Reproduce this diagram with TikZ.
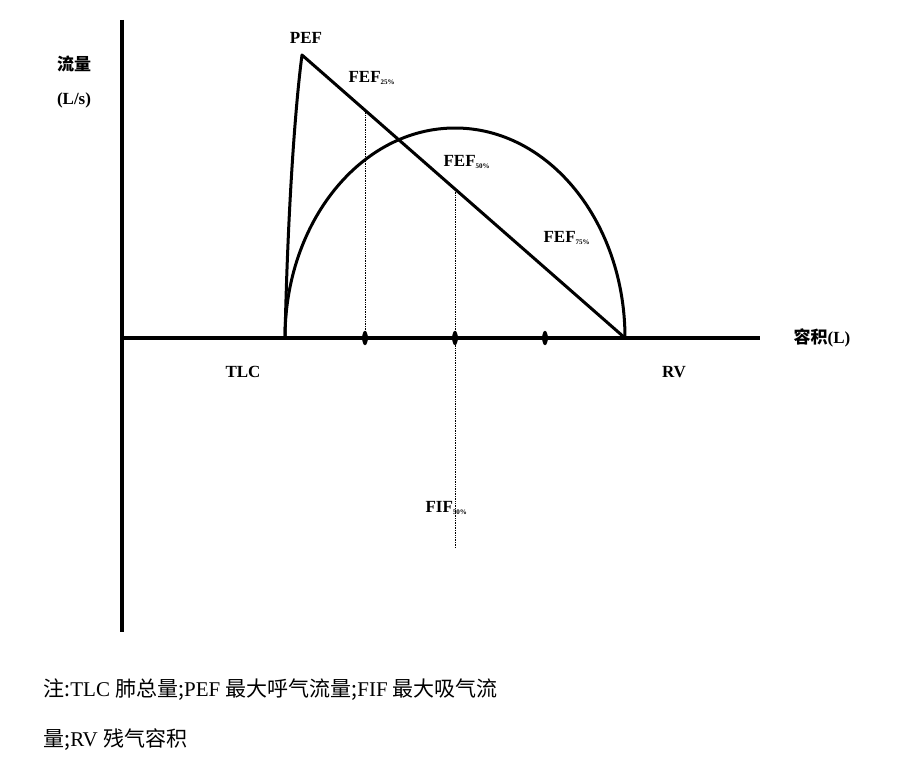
\documentclass[tikz,border=0pt]{standalone}
\usepackage{fontspec}
\usetikzlibrary{shapes.geometric}
\setmainfont{Liberation Serif}
\newfontfamily\cjk{Noto Sans CJK SC}
\begin{document}
\begin{tikzpicture}[x=1pt,y=-1pt,
  lbl/.style={font=\fontsize{17}{20}\selectfont\bfseries},
  captext/.style={font=\fontsize{21}{24}\selectfont,anchor=west},
  curve/.style={line width=3pt,line join=round},
  guide/.style={densely dotted,line width=0.7pt},
  tickmark/.style={draw,fill,ellipse,inner sep=0pt,minimum width=5pt,minimum height=14pt}]
\useasboundingbox (0,0) rectangle (911,768);
\fill[white] (0,0) rectangle (911,768);
\coordinate (yt) at (122,20); \coordinate (yb) at (122,632);
\coordinate (xl) at (122,338); \coordinate (xr) at (760,338);
\draw[line width=3.5pt] (yt) -- (yb);
\draw[line width=3.5pt] (xl) -- (xr);
\coordinate (tlc) at (285,338); \coordinate (pef) at (302,55); \coordinate (rv) at (625,338);
\draw[curve] (tlc) .. controls (288,200) and (296,100) .. (pef) -- (rv);
\draw[curve] (tlc) arc[start angle=180,end angle=360,x radius=170,y radius=210];
\coordinate (a1) at (365,110); \coordinate (a2) at (365,338);
\coordinate (b1) at (455,190); \coordinate (b2) at (455,548);
\draw[guide] (a1) -- (a2);
\draw[guide] (b1) -- (b2);
\node[tickmark] (t1) at (365,338) {};
\node[tickmark] (t2) at (455,338) {};
\node[tickmark] (t3) at (545,338) {};
\node[lbl] (l1) at (74,64) {\cjk 流量};
\node[lbl] (l2) at (74,100) {(L/s)};
\node[lbl] (l3) at (306,38) {PEF};
\node[lbl,anchor=west] (l4) at (345,78) {FEF\textsubscript{\scriptsize 25\%}};
\node[lbl,anchor=west] (l5) at (440,162) {FEF\textsubscript{\scriptsize 50\%}};
\node[lbl,anchor=west] (l6) at (540,238) {FEF\textsubscript{\scriptsize 75\%}};
\node[lbl,anchor=west] (l7) at (422,508) {FIF\textsubscript{\scriptsize 50\%}};
\node[lbl] (l8) at (243,372) {TLC};
\node[lbl] (l9) at (674,372) {RV};
\node[lbl] (l10) at (822,338) {{\cjk 容积}(L)};
\node[captext] (c1) at (40,690) {{\cjk 注:}TLC {\cjk 肺总量;}PEF {\cjk 最大呼气流量;}FIF {\cjk 最大吸气流}};
\node[captext] (c2) at (40,740) {{\cjk 量;}RV {\cjk 残气容积}};
\end{tikzpicture}
\end{document}
